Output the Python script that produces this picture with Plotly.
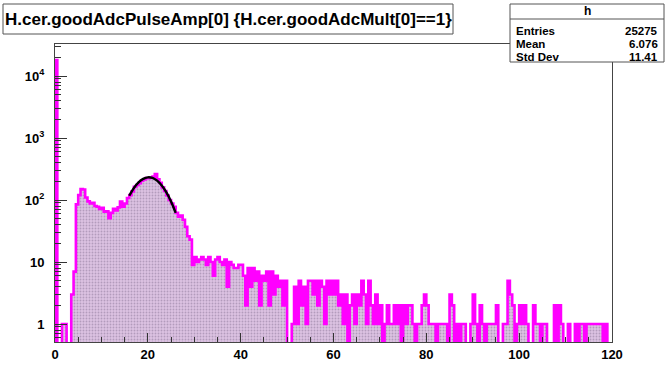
import numpy as np
import plotly.graph_objects as go

# ---- data ----
bin_width = 0.5
x_min, x_max = 0.0, 120.0
counts = [
    18000, 0, 0, 1, 1, 0, 0, 3, 7, 85,
    120, 150, 148, 110, 95, 88, 90, 80, 78, 72,
    75, 65, 66, 51, 62, 72, 68, 76, 94, 78,
    88, 108, 120, 138, 163, 175, 187, 205, 215, 225,
    225, 228, 238, 263, 215, 190, 160, 140, 118, 100,
    88, 78, 62, 54, 56, 48, 37, 26, 23, 9,
    12, 10, 11, 12, 11, 9, 12, 10, 6, 11,
    12, 10, 9, 11, 4, 10, 9, 8, 8, 9,
    9, 6, 2, 8, 4, 8, 5, 7, 2, 6,
    5, 7, 2, 7, 3, 6, 4, 5, 2, 5,
    0, 0, 1, 4, 1, 5, 2, 4, 1, 5,
    5, 3, 5, 2, 5, 4, 1, 5, 3, 5,
    3, 5, 2, 3, 1, 3, 0, 2, 3, 1,
    3, 2, 5, 3, 1, 5, 2, 1, 3, 1,
    2, 0, 1, 2, 1, 1, 2, 1, 2, 0,
    2, 1, 2, 2, 1, 0, 1, 1, 2, 3,
    2, 1, 1, 1, 0, 1, 1, 1, 1, 0,
    3, 2, 0, 1, 0, 1, 1, 0, 0, 1,
    3, 1, 0, 2, 1, 0, 1, 1, 1, 1,
    2, 0, 0, 1, 1, 5, 3, 2, 0, 1,
    2, 1, 2, 1, 0, 0, 2, 1, 1, 0,
    1, 1, 0, 0, 0, 2, 0, 2, 1, 0,
    0, 1, 0, 0, 1, 0, 1, 1, 0, 1,
    1, 1, 1, 1, 1, 1, 0, 1, 0, 0,
]
fit_x = [16, 17, 18, 19, 20, 21, 22, 23, 24, 25, 26]
fit_y = [117, 156, 192, 219, 232, 227, 205, 171, 133, 95, 62]

title_text = "H.cer.goodAdcPulseAmp[0] {H.cer.goodAdcMult[0]==1}"
stats_name = "h"
stats_rows = [("Entries", "25275"), ("Mean", "6.076"), ("Std Dev", "11.41")]

x_ticks = [0, 20, 40, 60, 80, 100, 120]
y_ticks = [1, 10, 100, 1000, 10000]
y_ticktext = ["1", "10", "10<sup>2</sup>", "10<sup>3</sup>", "10<sup>4</sup>"]

# ---- geometry ----
W, H = 665, 367
L, R, T, B = 55, 612, 44, 342
y_lo, y_hi = -0.29, 4.516
floor_val = 0.1


def px(xp):
    return (xp - L) / (R - L)


def py(yp):
    return (B - yp) / (B - T)


edges = np.arange(len(counts) + 1) * bin_width + x_min
vals = np.array(counts, dtype=float)
disp = np.where(vals > 0, vals, floor_val)

xs = np.concatenate([[edges[0]], edges[:-1], [edges[-1]], [edges[-1]]])
ys = np.concatenate([[floor_val], disp, [disp[-1]], [floor_val]])

fig = go.Figure()
fig.add_trace(go.Scatter(
    x=xs, y=ys, mode="lines", line=dict(shape="hv", color="#ff00ff", width=2.6),
    fill="toself", fillcolor="#d8c0de",
    fillpattern=dict(shape=".", fgcolor="#8a7496", bgcolor="#dcc2e2", size=3, solidity=0.3),
    hoverinfo="skip", showlegend=False,
))
fig.add_trace(go.Scatter(
    x=fit_x, y=fit_y, mode="lines", line=dict(shape="spline", color="black", width=2.4),
    hoverinfo="skip", showlegend=False,
))

minor_y = [k * 10 ** e for e in range(-1, 5) for k in range(2, 10)]
minor_y = [v for v in minor_y if 10 ** y_lo < v < 10 ** y_hi]

FONT = "Liberation Sans, Arial, sans-serif"
font_b = dict(family=FONT, size=13, color="black")

fig.update_layout(
    width=W, height=H, autosize=False,
    margin=dict(l=L, r=W - R, t=T, b=H - B, pad=0, autoexpand=False),
    paper_bgcolor="white", plot_bgcolor="white",
    xaxis=dict(
        range=[x_min, x_max], tickvals=x_ticks, ticktext=[f"<b>{v}</b>" for v in x_ticks],
        ticks="inside", ticklen=9, tickcolor="#333", tickwidth=1, automargin=False,
        minor=dict(tickvals=list(range(5, 120, 5)), ticks="inside", ticklen=5, tickcolor="#333"),
        showgrid=False, zeroline=False, showline=True, linecolor="#444", linewidth=1,
        mirror=True, tickfont=font_b, ticklabelstandoff=0,
    ),
    yaxis=dict(
        type="log", range=[y_lo, y_hi], tickvals=y_ticks,
        ticktext=[f"<b>{t}</b>" for t in y_ticktext],
        ticks="inside", ticklen=12, tickcolor="#333", tickwidth=1, automargin=False,
        minor=dict(tickvals=minor_y, ticks="inside", ticklen=6, tickcolor="#333"),
        showgrid=False, zeroline=False, showline=True, linecolor="#444", linewidth=1,
        mirror=True, tickfont=font_b, ticklabelstandoff=7,
    ),
)

shapes = []
# title box
shapes.append(dict(type="rect", xref="paper", yref="paper",
                   x0=px(3), x1=px(453), y0=py(34), y1=py(4),
                   line=dict(color="#555", width=1), fillcolor="white", layer="above"))
# stats box
shapes.append(dict(type="rect", xref="paper", yref="paper",
                   x0=px(510), x1=px(664), y0=py(62), y1=py(4),
                   line=dict(color="#555", width=1), fillcolor="white", layer="above"))
shapes.append(dict(type="line", xref="paper", yref="paper",
                   x0=px(510), x1=px(664), y0=py(19), y1=py(19),
                   line=dict(color="#555", width=1), layer="above"))
fig.update_layout(shapes=shapes)

ann = []
ann.append(dict(text=f"<b>{title_text}</b>", xref="paper", yref="paper",
                x=px(228), y=py(19), xanchor="center", yanchor="middle", showarrow=False,
                font=dict(family=FONT, size=17, color="black")))
ann.append(dict(text=f"<b>{stats_name}</b>", xref="paper", yref="paper",
                x=px(587), y=py(11), xanchor="center", yanchor="middle", showarrow=False,
                font=dict(family=FONT, size=12, color="black")))
for i, (lab, val) in enumerate(stats_rows):
    yy = py(31 + 12.8 * i)
    ann.append(dict(text=f"<b>{lab}</b>", xref="paper", yref="paper", x=px(514), y=yy,
                    xanchor="left", yanchor="middle", showarrow=False,
                    font=dict(family=FONT, size=11.5, color="black")))
    ann.append(dict(text=f"<b>{val}</b>", xref="paper", yref="paper", x=px(660), y=yy,
                    xanchor="right", yanchor="middle", showarrow=False,
                    font=dict(family=FONT, size=11.5, color="black")))
fig.update_layout(annotations=ann)

fig.write_html("out.html", config={"displayModeBar": False},
               post_script="document.body.style.margin='0';")
